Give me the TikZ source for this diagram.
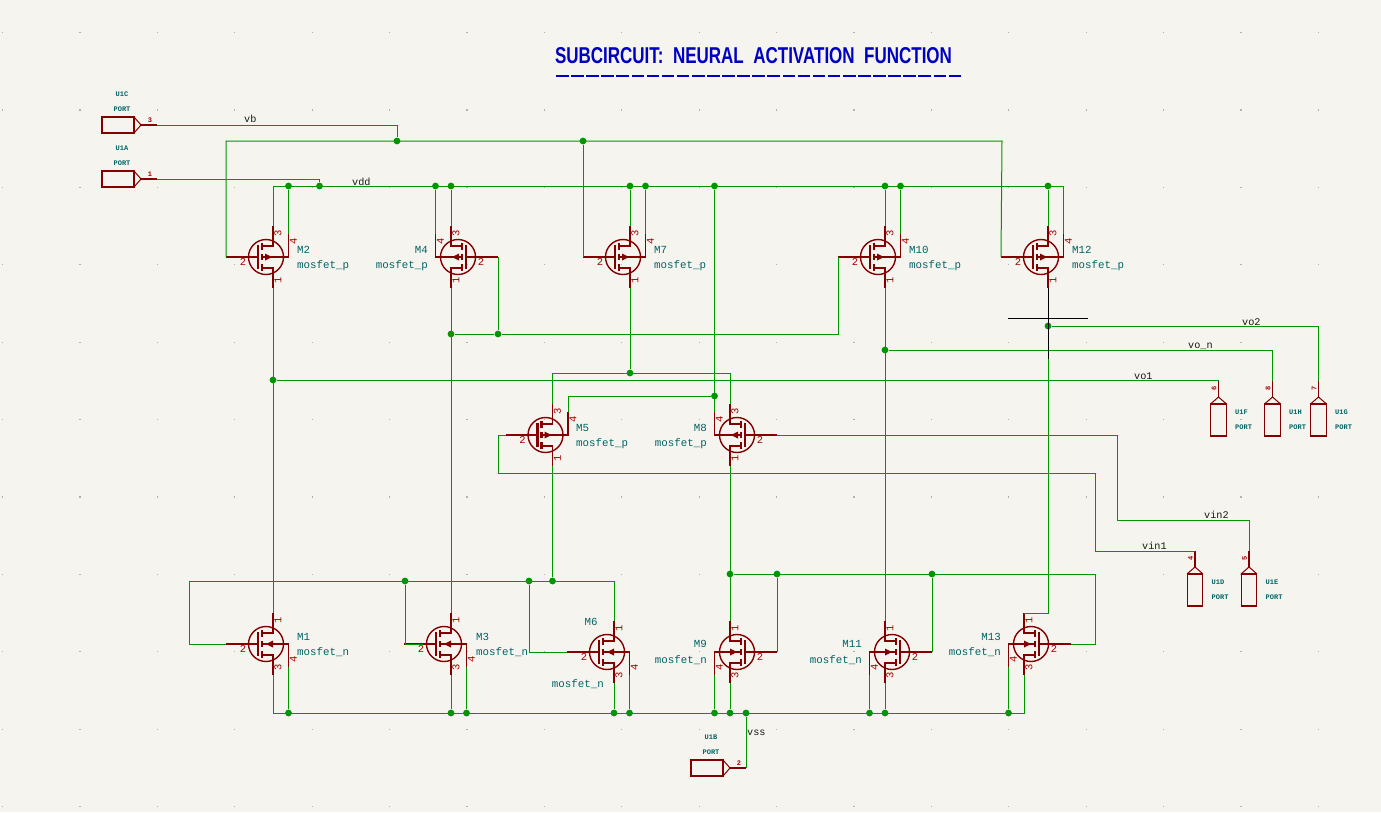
\documentclass[tikz,border=0pt]{standalone}
\usepackage{fontspec}
\setmainfont{Liberation Mono}
\newfontfamily\titlefont{Liberation Sans}
\usetikzlibrary{arrows, shapes}

\definecolor{paper}{RGB}{245,244,239}
\definecolor{griddot}{RGB}{178,178,178}
\definecolor{wirecol}{RGB}{0,150,0}
\definecolor{symcol}{RGB}{132,0,0}
\definecolor{pincol}{RGB}{169,0,0}
\definecolor{refcol}{RGB}{0,100,100}
\definecolor{titlecol}{RGB}{0,0,194}

\tikzset{
	wire/.style={draw=wirecol,line width=1pt,line join=miter},
	sym/.style={draw=symcol,line width=1.4pt},
	symthick/.style={draw=symcol,line width=2.2pt},
	junct/.style={circle,fill=wirecol,inner sep=0pt,minimum size=6.8pt},
	pinnum/.style={text=pincol,font=\fontsize{10.5}{11}\selectfont,inner sep=0pt},
	portnum/.style={text=pincol,font=\fontsize{7}{8}\selectfont\bfseries,inner sep=0pt},
	reflabel/.style={text=refcol,font=\fontsize{10.8}{12}\selectfont,inner sep=0pt},
	portlabel/.style={text=refcol,font=\fontsize{7}{8}\selectfont\bfseries,inner sep=0pt},
	netlabel/.style={text=black!90,font=\fontsize{10.2}{12}\selectfont,inner sep=0pt,anchor=base west},
	portbox/.style={draw=symcol,line width=1.4pt,inner sep=0pt,fill=paper}
}

% name, x, y, side, bulk end, arrow base, arrow tip
\newcommand{\mosbody}[7]{
	\begin{scope}[shift={(#2,#3)},xscale=#4]
		\draw[sym] (0,0) circle [radius=17.5];
		\draw[symthick] (-8,-12) -- (-8,12);
		\draw[symthick] (-4,-14) -- (-4,-7);
		\draw[symthick] (-4,-3) -- (-4,3);
		\draw[symthick] (-4,7) -- (-4,14);
		\draw[sym] (-40,0) -- (-8,0);
		\draw[sym] (-4,0) -- (22.5,0) -- (22.5,#5);
		\draw[sym] (-4,-11) -- (7,-11) -- (7,-31);
		\draw[sym] (-4,11) -- (7,11) -- (7,31);
		\fill[symcol] (#6,-3.5) -- (#6,3.5) -- (#7,0) -- cycle;
		\coordinate (#1-t) at (7,-31);
		\coordinate (#1-b) at (7,31);
		\coordinate (#1-g) at (-40,0);
		\coordinate (#1-v) at (22.5,#5);
		\coordinate (#1-gn) at (-23,5);
	\end{scope}
	\node[pinnum] (#1-n2) at (#1-gn) {2};
}
\newcommand{\pmosfet}[4]{
	\mosbody{#1}{#2}{#3}{#4}{-23}{-1}{6}
	\node[pinnum,xshift=5pt,yshift=-7pt,rotate=90] (#1-n3) at (#1-t) {3};
	\node[pinnum,xshift=5pt,yshift=8pt,rotate=90] (#1-n1) at (#1-b) {1};
	\node[pinnum,xshift=5pt,yshift=-7pt,rotate=90] (#1-n4) at (#1-v) {4};
}
\newcommand{\nmosfet}[4]{
	\mosbody{#1}{#2}{#3}{#4}{23}{7}{0}
	\node[pinnum,xshift=5pt,yshift=-7pt,rotate=90] (#1-n1) at (#1-t) {1};
	\node[pinnum,xshift=5pt,yshift=8pt,rotate=90] (#1-n3) at (#1-b) {3};
	\node[pinnum,xshift=5pt,yshift=8pt,rotate=90] (#1-n4) at (#1-v) {4};
}
% name, x, y, pin number
\newcommand{\portside}[4]{
	\node[portbox,minimum width=32pt,minimum height=16pt] (#1) at (#2,#3) {};
	\begin{scope}[shift={(#2,#3)}]
		\draw[sym,line width=1pt] (16,-8) -- (23,0) -- (16,8);
		\draw[sym] (23,0) -- (39,0);
		\coordinate (#1-pin) at (39,0);
		\node[portnum] (#1-num) at (32,-4.5) {#4};
		\node[portlabel] (#1-ref) at (4,-31) {#1};
		\node[portlabel] (#1-typ) at (4,-16) {PORT};
	\end{scope}
}
\newcommand{\portup}[4]{
	\node[portbox,minimum width=15.5pt,minimum height=32pt] (#1) at (#2,#3) {};
	\begin{scope}[shift={(#2,#3)}]
		\draw[sym,line width=1pt] (-8,-16) -- (0,-23) -- (8,-16);
		\draw[sym] (0,-23) -- (0,-39);
		\coordinate (#1-pin) at (0,-39);
		\node[portnum,rotate=90] (#1-num) at (-4.5,-32) {#4};
		\node[portlabel,anchor=west] (#1-ref) at (16.5,-8) {#1};
		\node[portlabel,anchor=west] (#1-typ) at (16.5,7) {PORT};
	\end{scope}
}

\begin{document}
\begin{tikzpicture}[x=1pt,y=-1pt]
	\useasboundingbox (0,0) rectangle (1381,812);
	\fill[paper] (0,0) rectangle (1381,812);
	\foreach \i in {0,...,17}
		\foreach \j in {0,...,10}
			\fill[griddot] ({2+\i*77.4},{32+\j*77.4}) rectangle +(1.2,1.2);

	\node[text=titlecol,inner sep=0pt] (title) at (753.5,55.5) {\resizebox{397pt}{16pt}{\titlefont\bfseries SUBCIRCUIT:\ \ NEURAL\ \ ACTIVATION\ \ FUNCTION}};
	\coordinate (ruleL) at (556,76);
	\coordinate (ruleR) at (961,76);
	\draw[titlecol,line width=2.6pt,dash pattern=on 12.6pt off 2.5pt] (ruleL) -- (ruleR);

	% transistors
	\pmosfet{M2}{266}{257}{1}
	\pmosfet{M4}{458}{257}{-1}
	\pmosfet{M7}{623}{257}{1}
	\pmosfet{M10}{878}{257}{1}
	\pmosfet{M12}{1041}{257}{1}
	\pmosfet{M5}{545.5}{435}{1}
	\pmosfet{M8}{737}{435}{-1}
	\nmosfet{M1}{266}{644}{1}
	\nmosfet{M3}{444}{644}{1}
	\nmosfet{M6}{607}{652}{1}
	\nmosfet{M9}{737}{652}{-1}
	\nmosfet{M11}{892}{652}{-1}
	\nmosfet{M13}{1031}{644}{-1}

	\node[reflabel,anchor=base west] (M2-ref) at (297,253) {M2};
	\node[reflabel,anchor=base west] (M2-val) at (297,268.5) {mosfet\_p};
	\node[reflabel,anchor=base east] (M4-ref) at (428,253) {M4};
	\node[reflabel,anchor=base east] (M4-val) at (428,268.5) {mosfet\_p};
	\node[reflabel,anchor=base west] (M7-ref) at (654,253) {M7};
	\node[reflabel,anchor=base west] (M7-val) at (654,268.5) {mosfet\_p};
	\node[reflabel,anchor=base west] (M10-ref) at (909,253) {M10};
	\node[reflabel,anchor=base west] (M10-val) at (909,268.5) {mosfet\_p};
	\node[reflabel,anchor=base west] (M12-ref) at (1072,253) {M12};
	\node[reflabel,anchor=base west] (M12-val) at (1072,268.5) {mosfet\_p};
	\node[reflabel,anchor=base west] (M5-ref) at (576,431) {M5};
	\node[reflabel,anchor=base west] (M5-val) at (576,446.5) {mosfet\_p};
	\node[reflabel,anchor=base east] (M8-ref) at (707,431) {M8};
	\node[reflabel,anchor=base east] (M8-val) at (707,446.5) {mosfet\_p};
	\node[reflabel,anchor=base west] (M1-ref) at (297,640) {M1};
	\node[reflabel,anchor=base west] (M1-val) at (297,655.5) {mosfet\_n};
	\node[reflabel,anchor=base west] (M3-ref) at (476,640) {M3};
	\node[reflabel,anchor=base west] (M3-val) at (476,655.5) {mosfet\_n};
	\node[reflabel,anchor=base] (M6-ref) at (591,625) {M6};
	\node[reflabel,anchor=base east] (M6-val) at (604,687) {mosfet\_n};
	\node[reflabel,anchor=base east] (M9-ref) at (707,647.5) {M9};
	\node[reflabel,anchor=base east] (M9-val) at (707,663.5) {mosfet\_n};
	\node[reflabel,anchor=base east] (M11-ref) at (862,647.5) {M11};
	\node[reflabel,anchor=base east] (M11-val) at (862,663.5) {mosfet\_n};
	\node[reflabel,anchor=base east] (M13-ref) at (1001,640) {M13};
	\node[reflabel,anchor=base east] (M13-val) at (1001,655.5) {mosfet\_n};

	% ports
	\portside{U1C}{118}{125}{3}
	\portside{U1A}{118}{179}{1}
	\portside{U1B}{707}{768}{2}
	\portup{U1F}{1218.5}{420}{6}
	\portup{U1H}{1272.5}{420}{8}
	\portup{U1G}{1318.5}{420}{7}
	\portup{U1D}{1195}{590}{4}
	\portup{U1E}{1249}{590}{5}

	% junctions
	\node[junct] (jb1) at (397,141) {};
	\node[junct] (jb2) at (583,141) {};
	\node[junct] (jd1) at (288.5,186) {};
	\node[junct] (jd2) at (319.5,186) {};
	\node[junct] (jd3) at (435.5,186) {};
	\node[junct] (jd4) at (451,186) {};
	\node[junct] (jd5) at (630,186) {};
	\node[junct] (jd6) at (645.5,186) {};
	\node[junct] (jd7) at (714.5,186) {};
	\node[junct] (jd8) at (885,186) {};
	\node[junct] (jd9) at (900.5,186) {};
	\node[junct] (jd10) at (1048,186) {};
	\node[junct] (jc1) at (451,334) {};
	\node[junct] (jc2) at (498,334) {};
	\node[junct] (jo1) at (273,380) {};
	\node[junct] (jon) at (885,350) {};
	\node[junct] (jo2) at (1048,326) {};
	\node[junct] (jt) at (630,373) {};
	\node[junct] (jv) at (714.5,396) {};
	\node[junct] (jl1) at (405,581) {};
	\node[junct] (jl2) at (529,581) {};
	\node[junct] (jl3) at (552.5,581) {};
	\node[junct] (jr1) at (730,574) {};
	\node[junct] (jr2) at (777,574) {};
	\node[junct] (jr3) at (932,574) {};
	\node[junct] (js1) at (288.5,713) {};
	\node[junct] (js2) at (451,713) {};
	\node[junct] (js3) at (466.5,713) {};
	\node[junct] (js4) at (614,713) {};
	\node[junct] (js5) at (629.5,713) {};
	\node[junct] (js6) at (714.5,713) {};
	\node[junct] (js7) at (730,713) {};
	\node[junct] (js8) at (746,713) {};
	\node[junct] (js9) at (869.5,713) {};
	\node[junct] (js10) at (885,713) {};
	\node[junct] (js11) at (1008.5,713) {};

	% corners
	\coordinate (cb1) at (397,125);
	\coordinate (cb2) at (226,141);
	\coordinate (cb3) at (1002,141);
	\coordinate (cd1) at (319.5,179);
	\coordinate (cd2) at (273,186);
	\coordinate (cd3) at (1063.5,186);
	\coordinate (cc1) at (838,334);
	\coordinate (co1) at (1218.5,380);
	\coordinate (con) at (1272.5,350);
	\coordinate (co2) at (1318.5,326);
	\coordinate (ct1) at (552.5,373);
	\coordinate (ct2) at (730,373);
	\coordinate (cv) at (568,396);
	\coordinate (ci1) at (498,435);
	\coordinate (ci2) at (498,473);
	\coordinate (ci3) at (1095,473);
	\coordinate (ci4) at (1095,551);
	\coordinate (ci5) at (1195,551);
	\coordinate (ci6) at (1117,435);
	\coordinate (ci7) at (1117,520);
	\coordinate (ci8) at (1249,520);
	\coordinate (cl1) at (189,644);
	\coordinate (cl2) at (189,581);
	\coordinate (cl3) at (614,581);
	\coordinate (cl4) at (405,644);
	\coordinate (cl5) at (423,644);
	\coordinate (cl6) at (529,652);
	\coordinate (cr1) at (1095,574);
	\coordinate (cr2) at (1095,644);
	\coordinate (cr3) at (777,652);
	\coordinate (cr4) at (932,652);
	\coordinate (cs1) at (273,713);
	\coordinate (cs2) at (1024,713);
	\coordinate (cs3) at (746,768);
	\coordinate (cm1) at (1048,359);
	\coordinate (cm2) at (1048,613);
	\coordinate (cm3) at (1008,318);
	\coordinate (cm4) at (1088,318);

	% wires
	\draw[wire] (U1C-pin) -- (cb1) -- (jb1);
	\draw[wire] (M2-g) -- (cb2) -- (cb3) -- (M12-g);
	\draw[wire] (jb2) -- (M7-g);
	\draw[wire] (U1A-pin) -- (cd1) -- (jd2);
	\draw[wire] (M2-t) -- (cd2) -- (cd3) -- (M12-v);
	\draw[wire] (jd1) -- (M2-v);
	\draw[wire] (jd3) -- (M4-v);
	\draw[wire] (jd4) -- (M4-t);
	\draw[wire] (jd5) -- (M7-t);
	\draw[wire] (jd6) -- (M7-v);
	\draw[wire] (jd8) -- (M10-t);
	\draw[wire] (jd9) -- (M10-v);
	\draw[wire] (jd10) -- (M12-t);
	\draw[wire] (jd7) -- (M8-v);
	\draw[wire] (M2-b) -- (M1-t);
	\draw[wire] (M4-b) -- (M3-t);
	\draw[wire] (M10-b) -- (M11-t);
	\draw[wire] (M7-b) -- (jt);
	\draw[wire] (M4-g) -- (jc2);
	\draw[wire] (jc1) -- (jc2) -- (cc1) -- (M10-g);
	\draw[wire] (jo1) -- (co1) -- (U1F-pin);
	\draw[wire] (jon) -- (con) -- (U1H-pin);
	\draw[wire] (jo2) -- (co2) -- (U1G-pin);
	\draw[wire] (M5-t) -- (ct1) -- (ct2) -- (M8-t);
	\draw[wire] (M5-v) -- (cv) -- (jv);
	\draw[wire] (M5-b) -- (jl3);
	\draw[wire] (M8-b) -- (M9-t);
	\draw[wire] (M5-g) -- (ci1) -- (ci2) -- (ci3) -- (ci4) -- (ci5) -- (U1D-pin);
	\draw[wire] (M8-g) -- (ci6) -- (ci7) -- (ci8) -- (U1E-pin);
	\draw[wire] (M1-g) -- (cl1) -- (cl2) -- (cl3) -- (M6-t);
	\draw[wire] (jl1) -- (cl4) -- (cl5);
	\draw[wire] (jl2) -- (cl6) -- (M6-g);
	\draw[wire] (jr1) -- (cr1) -- (cr2) -- (M13-g);
	\draw[wire] (jr2) -- (cr3);
	\draw[wire] (jr3) -- (cr4);
	\draw[wire] (cm1) -- (cm2) -- (M13-t);
	\draw[wire] (M1-b) -- (cs1) -- (cs2) -- (M13-b);
	\draw[wire] (M1-v) -- (js1);
	\draw[wire] (M3-b) -- (js2);
	\draw[wire] (M3-v) -- (js3);
	\draw[wire] (M6-b) -- (js4);
	\draw[wire] (M6-v) -- (js5);
	\draw[wire] (M9-v) -- (js6);
	\draw[wire] (M9-b) -- (js7);
	\draw[wire] (M11-v) -- (js9);
	\draw[wire] (M11-b) -- (js10);
	\draw[wire] (M13-v) -- (js11);
	\draw[wire] (js8) -- (cs3) -- (U1B-pin);

	% probe lines
	\draw[black,line width=1pt] (M12-b) -- (cm1);
	\draw[black,line width=1pt] (cm3) -- (cm4);

	% net names
	\node[netlabel] (vb) at (244,122) {vb};
	\node[netlabel] (vdd) at (352,185) {vdd};
	\node[netlabel] (vo1) at (1134,379) {vo1};
	\node[netlabel] (von) at (1188,348) {vo\_n};
	\node[netlabel] (vo2) at (1242,325) {vo2};
	\node[netlabel] (vin1) at (1142,549) {vin1};
	\node[netlabel] (vin2) at (1204,518) {vin2};
	\node[netlabel] (vss) at (747,735) {vss};
\end{tikzpicture}
\end{document}
